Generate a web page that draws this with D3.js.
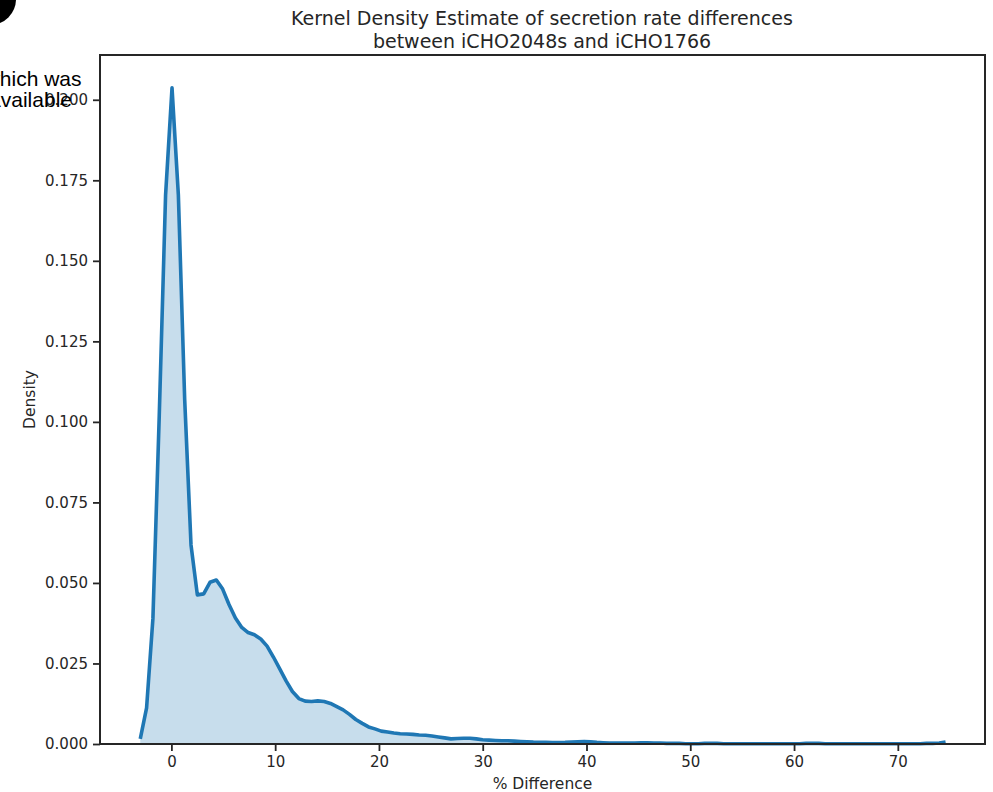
<!DOCTYPE html>
<html>
<head>
<meta charset="utf-8">
<script src="https://cdn.jsdelivr.net/npm/d3@7"></script>
<style>
  html, body { margin: 0; padding: 0; background: #fff; }
  svg { display: block; }
  text { font-family: "DejaVu Sans", sans-serif; fill: #262626; }
</style>
</head>
<body>
<svg id="chart" width="993" height="792"></svg>
<script>
// KDE evaluation grid (% difference) and the estimated density at each point
const gridX = [
  -3.00, -2.39, -1.78, -1.17, -0.56, 0.06, 0.67, 1.28, 1.89, 2.50,
  3.11, 3.72, 4.33, 4.94, 5.55, 6.17, 6.78, 7.39, 8.00, 8.61,
  9.22, 9.83, 10.44, 11.05, 11.66, 12.28, 12.89, 13.50, 14.11, 14.72,
  15.33, 15.94, 16.55, 17.16, 17.77, 18.39, 19.00, 19.61, 20.22, 20.83,
  21.44, 22.05, 22.66, 23.27, 23.88, 24.50, 25.11, 25.72, 26.33, 26.94,
  27.55, 28.16, 28.77, 29.38, 29.99, 30.61, 31.22, 31.83, 32.44, 33.05,
  33.66, 34.27, 34.88, 35.49, 36.10, 36.72, 37.33, 37.94, 38.55, 39.16,
  39.77, 40.38, 40.99, 41.60, 42.21, 42.82, 43.44, 44.05, 44.66, 45.27,
  45.88, 46.49, 47.10, 47.71, 48.32, 48.93, 49.55, 50.16, 50.77, 51.38,
  51.99, 52.60, 53.21, 53.82, 54.43, 55.04, 55.66, 56.27, 56.88, 57.49,
  58.10, 58.71, 59.32, 59.93, 60.54, 61.15, 61.77, 62.38, 62.99, 63.60,
  64.21, 64.82, 65.43, 66.04, 66.65, 67.26, 67.88, 68.49, 69.10, 69.71,
  70.32, 70.93, 71.54, 72.15, 72.76, 73.37, 73.99, 74.60
];
const density = [
  0.0016, 0.0112, 0.0390, 0.1020, 0.1705, 0.2037, 0.1705, 0.1070, 0.0618, 0.0463,
  0.0466, 0.0502, 0.0509, 0.0481, 0.0433, 0.0391, 0.0362, 0.0346, 0.0339, 0.0326,
  0.0304, 0.0270, 0.0233, 0.0196, 0.0163, 0.0141, 0.0133, 0.0132, 0.0134, 0.0132,
  0.0126, 0.0116, 0.0106, 0.0092, 0.0076, 0.0064, 0.0053, 0.0047, 0.0040, 0.0037,
  0.0034, 0.0032, 0.0031, 0.0030, 0.0028, 0.0027, 0.0025, 0.0022, 0.0019, 0.0016,
  0.0017, 0.0018, 0.0018, 0.0016, 0.0013, 0.0012, 0.0011, 0.0010, 0.0010, 0.0009,
  0.0008, 0.0007, 0.0006, 0.00055, 0.0005, 0.00045, 0.00045, 0.0005, 0.0006, 0.0007,
  0.0008, 0.0007, 0.0005, 0.0004, 0.0003, 0.0003, 0.0003, 0.0003, 0.0003, 0.0004,
  0.0004, 0.0003, 0.0003, 0.0002, 0.0002, 0.0002, 0.0001, 0.0001, 0.0001, 0.0002,
  0.0002, 0.0002, 0.0001, 0.0001, 0.0001, 0.0001, 0.0001, 0.0001, 0.0001, 0.0001,
  0.0001, 0.0001, 0.0001, 0.0001, 0.0001, 0.0002, 0.0002, 0.0002, 0.0001, 0.0001,
  0.0001, 0.0001, 0.0001, 0.0001, 0.0001, 0.0001, 0.0001, 0.0001, 0.0001, 0.0001,
  0.0001, 0.0001, 0.0001, 0.0001, 0.0002, 0.0002, 0.0003, 0.0006
];
const xTicks = [0, 10, 20, 30, 40, 50, 60, 70];
const yTicks = [0, 0.025, 0.05, 0.075, 0.1, 0.125, 0.15, 0.175, 0.2];
const titleLines = ["Kernel Density Estimate of secretion rate differences",
                    "between iCHO2048s and iCHO1766"];
const xLabel = "% Difference";
const yLabel = "Density";
const strayLines = ["which was", "available"];

const svg = d3.select("#chart");
const plot = { left: 100, right: 985, top: 55, bottom: 744 };

const x = d3.scaleLinear().domain([-6.88, 78.4]).range([plot.left, plot.right]);
const y = d3.scaleLinear().domain([0, 0.2139]).range([plot.bottom, plot.top]);

const pts = gridX.map((v, i) => [v, density[i]]);
const lineColor = "#1f77b4";

// shaded area under the density curve
svg.append("path")
  .datum(pts)
  .attr("fill", lineColor)
  .attr("fill-opacity", 0.25)
  .attr("d", d3.area().x(d => x(d[0])).y0(y(0)).y1(d => y(d[1])));

// density curve
svg.append("path")
  .datum(pts)
  .attr("fill", "none")
  .attr("stroke", lineColor)
  .attr("stroke-width", 3.6)
  .attr("stroke-linejoin", "round")
  .attr("d", d3.line().x(d => x(d[0])).y(d => y(d[1])));

// axes
const xAxis = svg.append("g")
  .attr("transform", `translate(0,${plot.bottom})`)
  .call(d3.axisBottom(x).tickValues(xTicks).tickFormat(d3.format("d")).tickSize(7).tickPadding(5));
const yAxis = svg.append("g")
  .attr("transform", `translate(${plot.left},0)`)
  .call(d3.axisLeft(y).tickValues(yTicks).tickFormat(d3.format(".3f")).tickSize(7).tickPadding(5));

[xAxis, yAxis].forEach(g => {
  g.select(".domain").remove();
  g.selectAll(".tick line").attr("stroke", "#262626").attr("stroke-width", 1.8);
  g.selectAll(".tick text")
    .attr("font-family", "DejaVu Sans")
    .attr("font-size", 15)
    .attr("fill", "#262626");
});

// frame
svg.append("rect")
  .attr("x", plot.left).attr("y", plot.top)
  .attr("width", plot.right - plot.left).attr("height", plot.bottom - plot.top)
  .attr("fill", "none").attr("stroke", "#262626").attr("stroke-width", 2);

// title
svg.append("text")
  .attr("x", 542).attr("y", 25)
  .attr("text-anchor", "middle").attr("font-size", 19)
  .selectAll("tspan").data(titleLines).join("tspan")
  .attr("x", 542).attr("dy", (d, i) => i === 0 ? 0 : 23)
  .text(d => d);

// axis labels
svg.append("text")
  .attr("x", (plot.left + plot.right) / 2).attr("y", 789)
  .attr("text-anchor", "middle").attr("font-size", 15.5)
  .text(xLabel);
svg.append("text")
  .attr("transform", `translate(35,${(plot.top + plot.bottom) / 2}) rotate(-90)`)
  .attr("text-anchor", "middle").attr("font-size", 15.5)
  .text(yLabel);

// stray overlay in the top-left corner
svg.append("circle").attr("cx", -10).attr("cy", -1).attr("r", 26).attr("fill", "#000");
svg.append("g").selectAll("text").data(strayLines).join("text")
  .attr("x", (d, i) => i === 0 ? 81.5 : 72)
  .attr("y", (d, i) => 86 + i * 21)
  .attr("text-anchor", "end")
  .attr("font-size", 21)
  .style("font-family", "Liberation Sans")
  .style("fill", "#000")
  .text(d => d);
</script>
</body>
</html>
